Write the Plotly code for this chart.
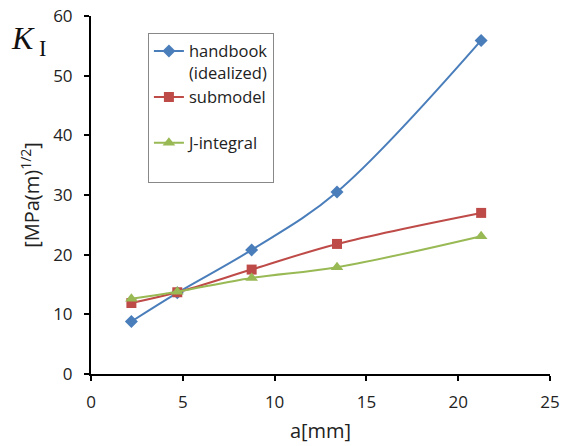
import plotly.graph_objects as go

a_mm = [2.2, 4.7, 8.75, 13.4, 21.25]
handbook = [8.8, 13.6, 20.8, 30.5, 55.9]
submodel = [11.9, 13.7, 17.5, 21.8, 27.0]
j_integral = [12.6, 13.8, 16.1, 17.9, 23.1]
x_ticks = [0, 5, 10, 15, 20, 25]
y_ticks = [0, 10, 20, 30, 40, 50, 60]

fig = go.Figure()
fig.add_trace(go.Scatter(x=a_mm, y=handbook, name="handbook<br>(idealized)",
                         mode="lines+markers", line=dict(color="#4a7ebb", width=2, shape="spline"),
                         marker=dict(symbol="diamond", size=10, color="#4a7ebb")))
fig.add_trace(go.Scatter(x=a_mm, y=submodel, name="submodel<br> ",
                         mode="lines+markers", line=dict(color="#be4b48", width=2, shape="spline"),
                         marker=dict(symbol="square", size=10, color="#be4b48")))
fig.add_trace(go.Scatter(x=a_mm, y=j_integral, name="J-integral<br> ",
                         mode="lines+markers", line=dict(color="#98b954", width=2, shape="spline"),
                         marker=dict(symbol="triangle-up", size=11, color="#98b954")))

font_family = "Open Sans, Liberation Sans, sans-serif"
fig.update_layout(
    width=561, height=446,
    margin=dict(l=91, r=11, t=16, b=72, autoexpand=False),
    plot_bgcolor="white", paper_bgcolor="white",
    font=dict(family=font_family, size=17, color="#222"),
    showlegend=True,
    legend=dict(x=0.124, y=0.953, xanchor="left", yanchor="top",
                bordercolor="#888", borderwidth=1, bgcolor="white",
                font=dict(size=16.5), valign="top", itemwidth=30,
                tracegroupgap=0),
    xaxis=dict(range=[0, 25], tickvals=x_ticks, showgrid=False, zeroline=False,
               showline=True, linecolor="black", linewidth=2, automargin=False,
               ticks="outside", ticklen=5, tickwidth=2, tickcolor="black",
               ticklabelstandoff=7,
               title=dict(text="a[mm]", font=dict(size=20), standoff=12)),
    yaxis=dict(range=[0, 60], tickvals=y_ticks, showgrid=False, zeroline=False,
               showline=True, linecolor="black", linewidth=2, automargin=False,
               ticks="outside", ticklen=5, tickwidth=2, tickcolor="black",
               ticklabelstandoff=8,
               title=dict(text="[MPa(m)<sup>1/2</sup>]", font=dict(size=20), standoff=8)),
)
fig.add_annotation(x=0, y=1.0, xref="paper", yref="paper", xshift=-82, yshift=-2,
                   text="<i>K</i><sub> I</sub>", showarrow=False,
                   font=dict(family="Liberation Serif, DejaVu Serif, serif", size=32, color="#111"),
                   xanchor="left", yanchor="top")
fig.write_html("out.html", config={"displayModeBar": False},
               post_script="document.body.style.margin='0';document.body.style.overflow='hidden';")
